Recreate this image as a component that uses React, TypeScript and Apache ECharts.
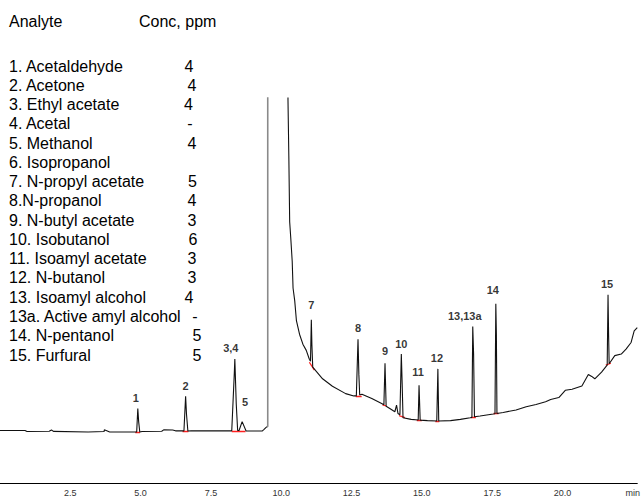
import React, { useEffect, useRef } from "react";
import * as echarts from "echarts";

// ---- Legend table (analyte, concentration) ----
const analytes = [
  "1. Acetaldehyde",
  "2. Acetone",
  "3. Ethyl acetate",
  "4. Acetal",
  "5. Methanol",
  "6. Isopropanol",
  "7. N-propyl acetate",
  "8.N-propanol",
  "9. N-butyl acetate",
  "10. Isobutanol",
  "11. Isoamyl acetate",
  "12. N-butanol",
  "13. Isoamyl alcohol",
  "13a. Active amyl alcohol",
  "14. N-pentanol",
  "15. Furfural",
];
const concentrations = ["4", "4", "4", "-", "4", "", "5", "4", "3", "6", "3", "3", "4", "-", "5", "5"];
// horizontal centre of each concentration figure (layout)
const concX = [189, 192, 188.5, 190, 192, 0, 192.5, 192, 192, 193, 192, 192, 189, 195, 197, 197];

// ---- Chromatogram trace: [time (min), signal] ----
const earlyTrace: [number, number][] = [
  [0.0, 53], [0.89, 53], [0.96, 52], [1.75, 52.3], [1.83, 53.5], [1.9, 52.2],
  [3.13, 51.5], [3.7, 52], [3.71, 53.7], [3.9, 51.5], [4.7, 51.5],
  [4.86, 51.5], [4.9, 75.3], [4.93, 62], [4.97, 51.5], [5.05, 52],
  [5.75, 52.3], [5.82, 53.7], [6.14, 53.5], [6.24, 52.7], [6.49, 52.7],
  [6.54, 52.5], [6.6, 87.7], [6.63, 70], [6.68, 52.5], [6.8, 52.7], [8.2, 52.7],
  [8.24, 52.5], [8.33, 110], [8.35, 125.3], [8.4, 80], [8.45, 53], [8.5, 53], [8.61, 62], [8.75, 52.5],
  [9.32, 52.5], [9.38, 54], [9.49, 57],
];
const solventFront: [number, number][] = [
  [9.49, 57], [9.52, 57], [9.52, 3000],
];
const lateTrace: [number, number][] = [
  [10.24, 3000], [10.24, 387], [10.27, 330.3], [10.3, 264], [10.34, 247], [10.39, 224],
  [10.42, 197], [10.48, 184], [10.54, 164], [10.65, 150.3], [10.77, 140.3],
  [10.89, 134], [11.0, 125],
  [11.04, 123], [11.07, 165], [11.09, 140], [11.12, 117],
  [11.47, 105.3], [11.82, 97.7], [12.29, 90.3], [12.58, 88],
  [12.67, 88], [12.73, 145.3], [12.76, 110], [12.79, 89],
  [12.87, 89.7], [13.22, 85.3], [13.57, 80.3],
  [13.65, 79], [13.69, 121], [13.73, 77.5],
  [13.86, 75.3], [14.04, 72], [14.1, 78.7], [14.15, 70.3],
  [14.22, 69], [14.27, 130.3], [14.3, 100], [14.33, 66],
  [14.62, 64.3],
  [14.87, 63.7], [14.9, 98.7], [14.94, 63.5],
  [15.2, 63],
  [15.53, 62.7], [15.57, 115.3], [15.6, 62.7],
  [16.02, 63], [16.37, 64.3], [16.72, 66],
  [16.78, 66.3], [16.81, 158], [16.84, 130], [16.87, 67],
  [17.07, 67.7], [17.54, 69.7],
  [17.6, 70], [17.63, 181], [17.65, 150], [17.67, 70.3],
  [17.89, 71.3], [18.35, 73.7], [18.71, 77], [19.06, 79.3], [19.4, 82],
  [19.58, 84.3], [19.87, 86.3], [20.1, 93.7], [20.34, 94.7], [20.69, 98],
  [20.92, 109.7], [21.04, 107.7], [21.15, 105.3], [21.39, 112], [21.56, 118],
  [21.59, 119], [21.62, 190.3], [21.64, 150], [21.66, 120.5],
  [21.86, 128.7], [22.09, 130.3], [22.26, 135.3], [22.44, 142], [22.55, 153.7], [22.66, 157],
];

// ---- Peak labels: name, retention time, apex signal ----
const peakNames = ["1", "2", "3,4", "5", "7", "8", "9", "10", "11", "12", "13,13a", "14", "15"];
const peakTimes = [4.9, 6.6, 8.35, 8.61, 11.07, 12.73, 13.69, 14.27, 14.9, 15.57, 16.81, 17.63, 21.62];
const peakApex = [75.3, 87.7, 125.3, 62, 165, 145.3, 121, 130.3, 98.7, 115.3, 158, 181, 190.3];
// label nudges (layout)
const peakLabelOffsets: [number, number][] = [
  [-2, 0], [0, 0], [-4, 0], [3, -9], [0, -4], [0, -1], [0, -2], [0, 0], [-1, -3], [-1, 0], [-8, 0], [-3, -3], [-1, 0],
];

// ---- Integration baseline marks: [t1, s1, t2, s2] ----
const integrationMarks: [number, number, number, number][] = [
  [4.81, 51, 4.98, 51],
  [6.49, 52, 6.7, 52],
  [8.24, 52, 8.73, 52],
  [11.0, 122, 11.18, 114],
  [12.65, 88, 12.86, 88],
  [13.6, 79, 13.73, 78],
  [14.19, 68, 14.4, 66],
  [14.82, 63.5, 15.0, 63.5],
  [15.48, 62.5, 15.62, 62.5],
  [16.75, 66.5, 16.92, 66.5],
  [17.55, 70, 17.73, 70],
  [21.54, 119, 21.72, 121],
];

const xMin = 0;
const xMax = 22.66;
const xInterval = 2.5;
const yMax = 389;

const FONT = "Arial, 'Liberation Sans', sans-serif";

export default function App() {
  const ref = useRef<HTMLDivElement>(null);

  useEffect(() => {
    if (!ref.current) return;
    const chart = echarts.init(ref.current, undefined, { renderer: "svg" });

    const graphics: any[] = [
      {
        type: "text",
        x: 9,
        y: 21,
        style: { text: "Analyte", fontSize: 16, fontFamily: FONT, fill: "#000", verticalAlign: "middle" },
      },
      {
        type: "text",
        x: 139,
        y: 21,
        style: { text: "Conc, ppm", fontSize: 16, fontFamily: FONT, fill: "#000", verticalAlign: "middle" },
      },
    ];
    analytes.forEach((name, i) => {
      const y = 66 + i * 19.27;
      graphics.push({
        type: "text",
        x: 9,
        y,
        style: { text: name, fontSize: 16, fontFamily: FONT, fill: "#000", verticalAlign: "middle" },
      });
      if (concentrations[i]) {
        graphics.push({
          type: "text",
          x: concX[i],
          y,
          style: {
            text: concentrations[i],
            fontSize: 16,
            fontFamily: FONT,
            fill: "#000",
            align: "center",
            verticalAlign: "middle",
          },
        });
      }
    });

    chart.setOption({
      animation: false,
      backgroundColor: "#fff",
      grid: { left: -4.4, right: 0, top: 98, bottom: 10, containLabel: false },
      xAxis: {
        type: "value",
        min: xMin,
        max: xMax,
        interval: xInterval,
        axisLine: { show: true, onZero: false, lineStyle: { color: "#000", width: 1 } },
        axisTick: { show: false },
        splitLine: { show: false },
        axisLabel: {
          margin: 5,
          fontSize: 9,
          fontFamily: FONT,
          color: "#333",
          showMinLabel: false,
          showMaxLabel: false,
          formatter: (v: number) => {
            if (v === 0) return "";
            if (Math.abs(v / xInterval - Math.round(v / xInterval)) > 1e-6) return "";
            if (Math.abs(v - 22.5) < 1e-6) return "min";
            return v.toFixed(1);
          },
        },
      },
      yAxis: {
        type: "value",
        min: 0,
        max: yMax,
        show: false,
      },
      graphic: graphics,
      series: [
        {
          type: "line",
          data: earlyTrace,
          symbol: "none",
          lineStyle: { color: "#111", width: 1.1 },
          clip: true,
          silent: true,
        },
        {
          type: "line",
          data: solventFront,
          symbol: "none",
          lineStyle: { color: "#8a8a8a", width: 1.6 },
          clip: true,
          silent: true,
        },
        {
          type: "line",
          data: lateTrace,
          symbol: "none",
          lineStyle: { color: "#111", width: 1.1 },
          clip: true,
          silent: true,
        },
        {
          type: "lines",
          coordinateSystem: "cartesian2d",
          data: integrationMarks.map((m) => ({ coords: [[m[0], m[1]], [m[2], m[3]]] })),
          lineStyle: { color: "#ff2020", width: 1.3, opacity: 1 },
          silent: true,
        },
        {
          type: "scatter",
          symbolSize: 0,
          silent: true,
          data: peakNames.map((n, i) => ({
            value: [peakTimes[i], peakApex[i]],
            name: n,
            label: { offset: peakLabelOffsets[i] },
          })),
          label: {
            show: true,
            position: "top",
            distance: 5,
            formatter: (p: any) => p.name,
            fontSize: 11,
            fontWeight: "bold",
            fontFamily: FONT,
            color: "#000",
          },
        },
      ],
    });

    return () => chart.dispose();
  }, []);

  return (
    <div
      ref={ref}
      style={{ position: "fixed", left: 0, top: 0, width: 643, height: 497, background: "#fff" }}
    />
  );
}
